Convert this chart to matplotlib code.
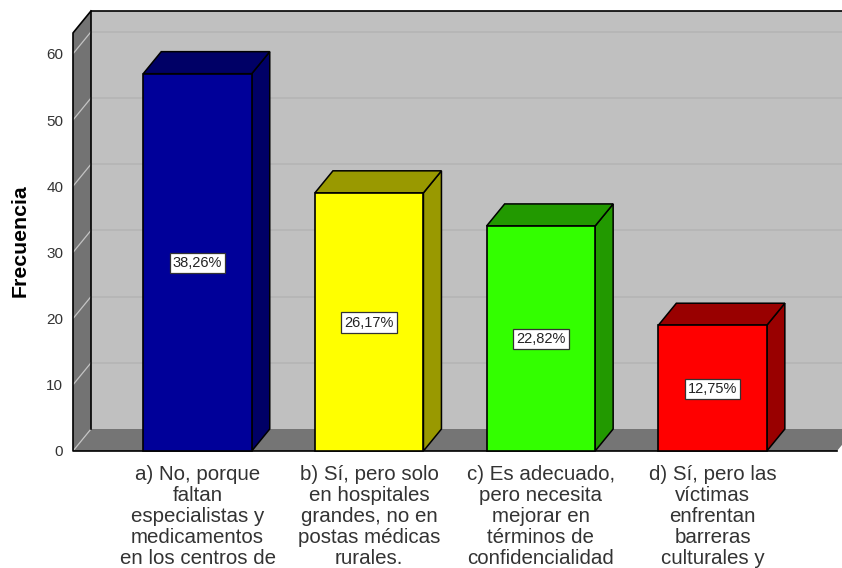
import matplotlib
matplotlib.use('Agg')
import matplotlib.pyplot as plt
from matplotlib.patches import Polygon

plt.rcParams['font.family'] = ['Liberation Sans', 'DejaVu Sans']

categorias = [
    'a) No, porque\nfaltan\nespecialistas y\nmedicamentos\nen los centros de',
    'b) Sí, pero solo\nen hospitales\ngrandes, no en\npostas médicas\nrurales.',
    'c) Es adecuado,\npero necesita\nmejorar en\ntérminos de\nconfidencialidad',
    'd) Sí, pero las\nvíctimas\nenfrentan\nbarreras\nculturales y',
]
frecuencias = [57, 39, 34, 19]
porcentajes = ['38,26%', '26,17%', '22,82%', '12,75%']
colores = ['#000099', '#ffff00', '#33ff00', '#ff0000']
colores_osc = ['#000066', '#999900', '#229900', '#990000']
ticks = [0, 10, 20, 30, 40, 50, 60]

W, H = 842, 568
fig = plt.figure(figsize=(W / 100, H / 100), dpi=100)
ax = fig.add_axes([73 / W, (H - 451) / H, (W - 73) / W, 451 / H])

# escalas: 171.7 px por categoria, 6.62 px por unidad
px_x = 171.7
px_y = 6.62
ax.set_xlim((73 - 197.5) / px_x, (W - 197.5) / px_x)
ax.set_ylim(0, 451 / px_y)
dx = 18 / px_x
dy = 22 / px_y
ancho = 108.5 / px_x
x0 = ax.get_xlim()[0]
x_der = ax.get_xlim()[1]
x1 = (837 - 197.5) / px_x
y_top = 63.15

for s in ax.spines.values():
    s.set_visible(False)
ax.patch.set_alpha(0)

# pared del fondo, pared izquierda y piso
ax.add_patch(Polygon([(x0 + dx, dy), (x_der, dy), (x_der, y_top + dy), (x0 + dx, y_top + dy)],
                     fc='#c0c0c0', ec='none', zorder=1))
ax.add_patch(Polygon([(x0, 0), (x0 + dx, dy), (x0 + dx, y_top + dy), (x0, y_top)],
                     fc='#737373', ec='none', zorder=1))
ax.add_patch(Polygon([(x0, 0), (x1, 0), (x1 + dx, dy), (x0 + dx, dy)],
                     fc='#757575', ec='none', zorder=1))

# rejilla
for t in ticks[1:]:
    ax.plot([x0 + dx, x_der], [t + dy, t + dy], color='#b4b4b4', lw=1.2, zorder=2)
for t in ticks:
    ax.plot([x0, x0 + dx], [t, t + dy], color='#c4c4c4', lw=0.9, zorder=2)

# marco
ax.plot([x0 + dx, x0, x0, x1], [y_top + dy, y_top, 0, 0], color='black', lw=1.2, zorder=3, clip_on=False)
ax.plot([x_der, x0 + dx, x0 + dx], [y_top + dy, y_top + dy, dy], color='black', lw=1.2, zorder=3)

# barras
for i, v in enumerate(frecuencias):
    l = i - ancho / 2
    r = i + ancho / 2
    ax.add_patch(Polygon([(r, 0), (r + dx, dy), (r + dx, v + dy), (r, v)],
                         fc=colores_osc[i], ec='black', lw=1.1, zorder=4))
    ax.add_patch(Polygon([(l, v), (r, v), (r + dx, v + dy), (l + dx, v + dy)],
                         fc=colores_osc[i], ec='black', lw=1.1, zorder=4))
    ax.bar(i, v, width=ancho, color=colores[i], edgecolor='black', linewidth=1.2, zorder=5, clip_on=False)
    ax.text(i, v / 2 - 0.1, porcentajes[i], ha='center', va='center', fontsize=10.5, color='#222222', zorder=6,
            bbox=dict(boxstyle='square,pad=0.22', fc='white', ec='#333333', lw=0.9))

ax.set_xticks(range(4))
ax.set_xticklabels(categorias, fontsize=14.8, color='#333333', linespacing=1.13)
ax.tick_params(axis='x', length=0, pad=10)
ax.set_yticks(ticks)
ax.set_yticklabels([str(t) for t in ticks], fontsize=11, color='#333333')
ax.tick_params(axis='y', length=0, pad=7)

fig.text(20 / W, 1 - 241 / H, 'Frecuencia', rotation=90, ha='center', va='center',
         fontsize=15.3, fontweight='bold', color='black')

fig.savefig('out.png', dpi=100)
